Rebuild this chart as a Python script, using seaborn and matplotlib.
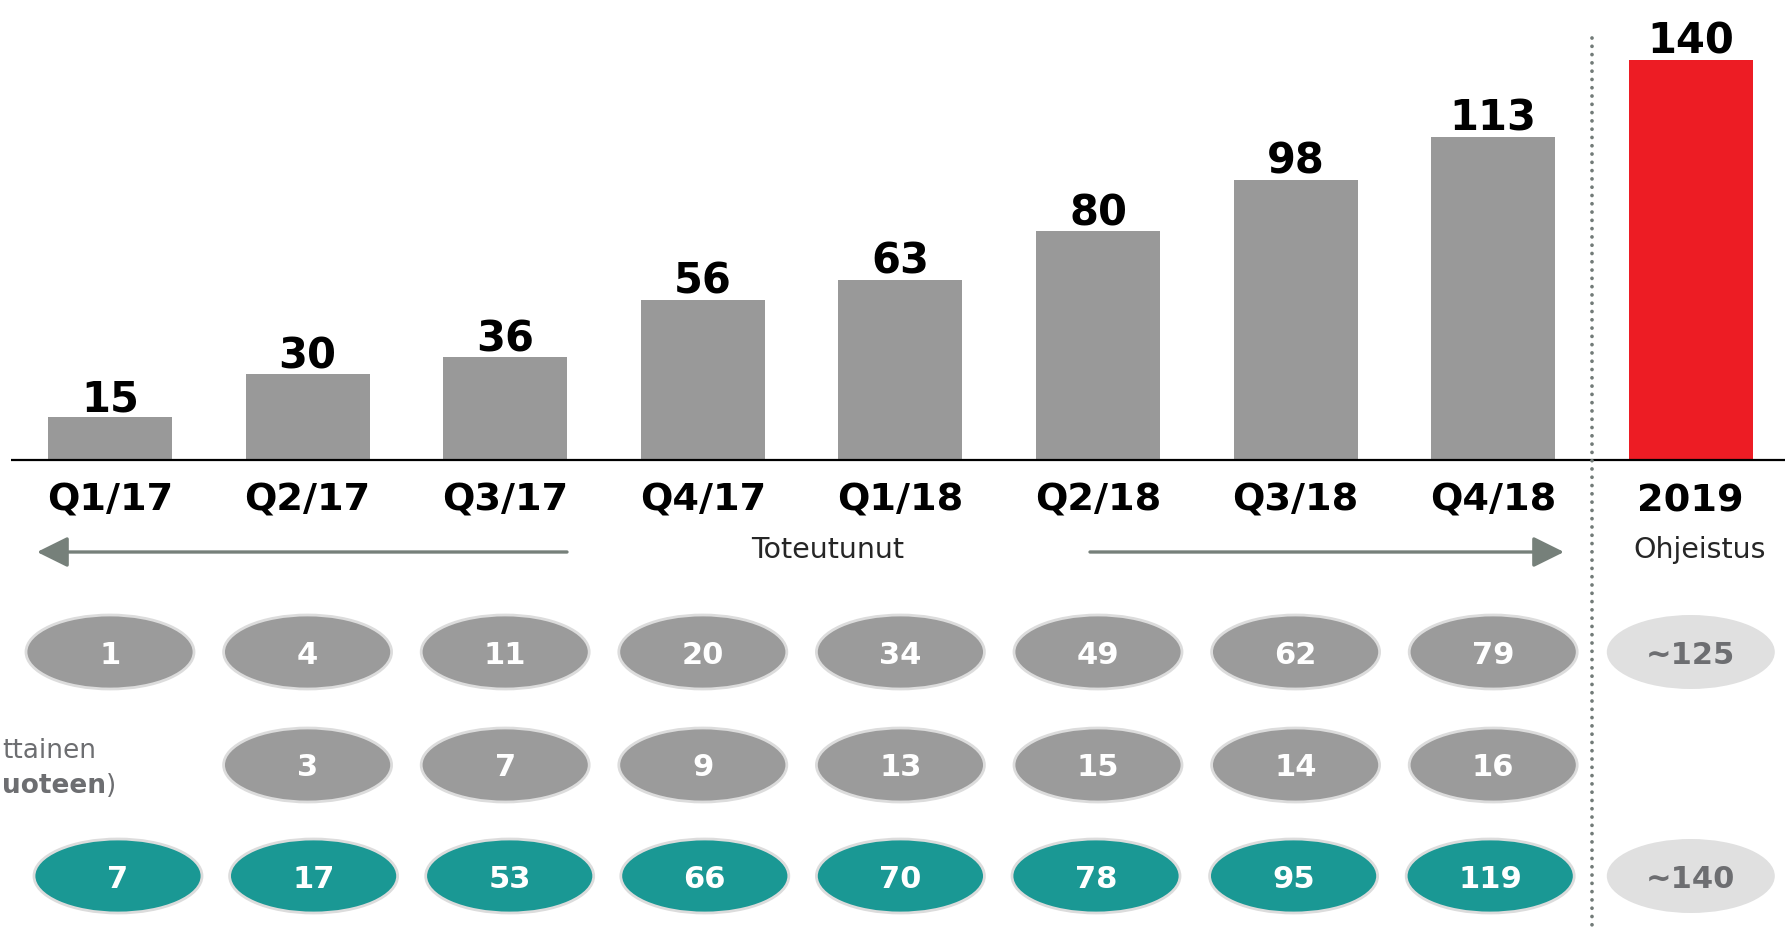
import pandas as pd
import matplotlib
matplotlib.use("Agg")
import matplotlib.pyplot as plt
import seaborn as sns
from matplotlib.patches import Ellipse

# ---------- data ----------
periods = ["Q1/17", "Q2/17", "Q3/17", "Q4/17", "Q1/18", "Q2/18", "Q3/18", "Q4/18", "2019"]
revenue = [15, 30, 36, 56, 63, 80, 98, 113, 140]
row_top = ["1", "4", "11", "20", "34", "49", "62", "79", "~125"]
row_mid = ["", "3", "7", "9", "13", "15", "14", "16", ""]
row_bottom = ["7", "17", "53", "66", "70", "78", "95", "119", "~140"]

# ---------- layout (pixels of the 1785x932 canvas) ----------
X0, STEP = 110, 197.6      # centre of first category, spacing
BASE, PPU = 460, 2.86      # baseline row, pixels per unit

def dx(px):
    return (px - X0) / STEP

def dy(py):
    return (BASE - py) / PPU

GREY = "#999999"
RED = "#ed1c24"
TEAL = "#1a9894"
LIGHT = "#e0e0e0"
TXT_GREY = "#6d6e71"
ARROW = "#76807a"

sns.set_style("white")
plt.rcParams["font.family"] = ["DejaVu Sans"]

fig = plt.figure(figsize=(17.85, 9.32), dpi=100)
ax = fig.add_axes([0, 0, 1, 1])

df = pd.DataFrame({"period": periods, "value": revenue})
sns.barplot(data=df, x="period", y="value", hue="period",
            palette=[GREY] * 8 + [RED], width=124 / STEP, saturation=1,
            linewidth=0, legend=False, ax=ax)
ax.set_xlim(dx(0), dx(1785))
ax.set_ylim(dy(932), dy(0))
ax.axis("off")

# baseline
ax.plot([dx(11), dx(1785)], [0, 0], color="black", lw=1.6, solid_capstyle="butt")

# value labels + period labels
for i, (p, v) in enumerate(zip(periods, revenue)):
    ax.text(i, v + 6 / PPU, str(v), ha="center", va="baseline",
            fontsize=30, fontweight="bold", color="black")
    ax.text(i, dy(511), p, ha="center", va="baseline",
            fontsize=27.5, fontweight="bold", color="black")

ax.text(dx(828), dy(558), "Toteutunut", ha="center", va="baseline", fontsize=20.5)
ax.text(dx(1700), dy(558), "Ohjeistus", ha="center", va="baseline", fontsize=20.5)

# arrows
arrow_kw = dict(arrowstyle="-|>,head_length=19,head_width=9.4", mutation_scale=1,
                color=ARROW, lw=2.4, shrinkA=0, shrinkB=0)
ax.annotate("", xy=(dx(37), dy(552)), xytext=(dx(567), dy(552)), arrowprops=arrow_kw)
ax.annotate("", xy=(dx(1564), dy(552)), xytext=(dx(1090), dy(552)), arrowprops=arrow_kw)

# dotted separator between actuals and guidance
ax.plot([7.5, 7.5], [dy(38), dy(932)], color="#727b78", lw=2.7,
        linestyle=(0, (0.01, 2.2)), dash_capstyle="round")

# ---------- ellipse rows ----------
EW, EH = 168 / STEP, 74 / PPU
teal_shift = [8, 6, 4.5, 2, 0, -2, -2, -3, 0]

def bubble(x, cy, label, face, edge, color):
    ax.add_patch(Ellipse((x, dy(cy)), EW, EH, facecolor=face,
                         edgecolor=edge, lw=2 if edge != "none" else 0))
    ax.text(x, dy(cy + 11.5), label, ha="center", va="baseline",
            fontsize=22, fontweight="bold", color=color)

for i, lab in enumerate(row_top):
    if i == 8:
        bubble(i, 652, lab, LIGHT, "none", TXT_GREY)
    else:
        bubble(i, 652, lab, "#9b9b9b", "#dcdcdc", "white")

for i, lab in enumerate(row_mid):
    if lab:
        bubble(i, 765, lab, "#9b9b9b", "#dcdcdc", "white")

for i, lab in enumerate(row_bottom):
    if i == 8:
        bubble(i, 876, lab, LIGHT, "none", TXT_GREY)
    else:
        bubble(i + teal_shift[i] / STEP, 876, lab, TEAL, "#dcdcdc", "white")

# row caption at the left edge (kept fully inside the canvas)
ax.text(dx(2), dy(758), "ttainen", ha="left", va="baseline",
        fontsize=19, color=TXT_GREY)
cap = ax.text(dx(2), dy(793), "uoteen", ha="left", va="baseline",
              fontsize=19, fontweight="bold", color=TXT_GREY)
ax.annotate(")", xy=(1, 0), xycoords=cap, ha="left", va="bottom",
            fontsize=19, color=TXT_GREY)

fig.savefig("out.png", dpi=100)
